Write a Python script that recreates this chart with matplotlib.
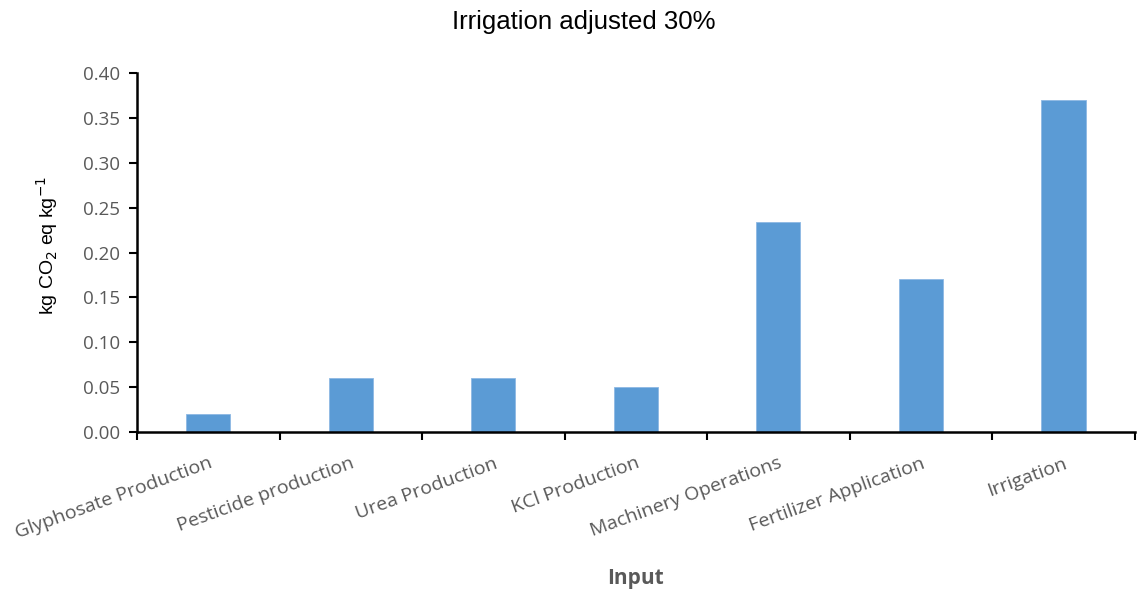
import matplotlib
matplotlib.use("Agg")
import matplotlib.pyplot as plt
import numpy as np

# emission per input
inputs = ["Glyphosate Production", "Pesticide production", "Urea Production",
          "KCl Production", "Machinery Operations", "Fertilizer Application",
          "Irrigation"]
emissions = [0.02, 0.06, 0.06, 0.05, 0.234, 0.17, 0.37]
yticks = [0.00, 0.05, 0.10, 0.15, 0.20, 0.25, 0.30, 0.35, 0.40]

grey = "#595959"
bar_col = "#5B9BD5"

fig = plt.figure(figsize=(11.37, 5.95), dpi=100)
ax = fig.add_axes([0.1205, 0.274, 0.8775, 0.603])

x = np.arange(len(inputs))
ax.bar(x, emissions, width=0.31, color=bar_col, edgecolor="#8DB8E4", linewidth=0.6)

ax.set_xlim(-0.5, len(inputs) - 0.5)
ax.set_ylim(0, 0.40)
ax.set_yticks(yticks)
ax.set_yticklabels([f"{v:.2f}" for v in yticks], family="Open Sans", fontsize=13.5, color=grey)

# ticks sit between categories, labels at bar centres
ax.set_xticks(np.arange(len(inputs) + 1) - 0.5)
ax.set_xticklabels([])
ax.set_xticks(x, minor=True)
ax.set_xticklabels(inputs, minor=True, rotation=20, ha="right", rotation_mode="anchor",
                   family="Open Sans", fontsize=14, color=grey)
ax.tick_params(axis="x", which="minor", length=0, pad=16)
ax.tick_params(axis="x", which="major", direction="out", length=6, width=1.5, color="black")
ax.tick_params(axis="y", direction="out", length=6, width=1.5, color="black", pad=6)

for side in ["top", "right"]:
    ax.spines[side].set_visible(False)
for side in ["left", "bottom"]:
    ax.spines[side].set_linewidth(1.8)
    ax.spines[side].set_color("black")

ax.set_ylabel("kg CO$_2$ eq kg$^{-1}$", family="Liberation Sans", fontsize=14)
ax.yaxis.set_label_coords(-0.077, 0.52)
fig.text(0.513, 0.963, "Irrigation adjusted 30%", ha="center", va="center",
         family="Liberation Sans", fontsize=18.5)
fig.text(0.559, 0.028, "Input", ha="center", va="center", family="Open Sans",
         fontsize=15, fontweight="bold", color=grey)

fig.savefig("out.png", dpi=100)
